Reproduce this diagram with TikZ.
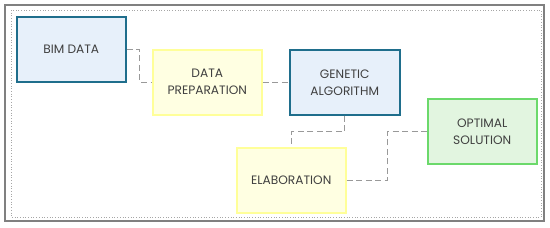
\documentclass[tikz,border=0pt]{standalone}
\usepackage{fontspec}
\setmainfont{Poppins}
\begin{document}
\begin{tikzpicture}[x=1pt,y=-1pt,
  box/.style={draw,line width=1.5pt,minimum width=109pt,minimum height=65pt,align=center,font=\fontsize{12.2}{17}\selectfont,text=black!75,inner sep=0pt,anchor=north west},
  bluebox/.style={box,fill=bf,draw=bd},
  yelbox/.style={box,fill=yf,draw=yd},
  grnbox/.style={box,fill=gf,draw=gd},
  conn/.style={draw=black!40,line width=1.4pt,dash pattern=on 6pt off 3.5pt}]
\definecolor{bd}{HTML}{1F6E8C}
\definecolor{bf}{HTML}{E7F0FA}
\definecolor{yf}{HTML}{FFFFE2}
\definecolor{yd}{HTML}{FFFF99}
\definecolor{gf}{HTML}{E2F5E0}
\definecolor{gd}{HTML}{6BD96B}
\useasboundingbox (0,0) rectangle (550,228);
\draw[black!50,line width=1.5pt] (5,5) rectangle (544,221);
\draw[black!35,dotted,line width=0.7pt] (11,10) rectangle (541,217);
\node[bluebox] (bim) at (16,16) {BIM DATA};
\node[yelbox] (dp) at (152,49) {DATA\\PREPARATION};
\node[bluebox,minimum width=110pt] (ga) at (289,49) {GENETIC\\ALGORITHM};
\node[yelbox] (el) at (236,147) {ELABORATION};
\node[grnbox] (opt) at (427,98) {OPTIMAL\\SOLUTION};
\draw[conn] (bim.east) -- ++(13,0) |- (dp.west);
\draw[conn] (dp.east) -- (ga.west);
\draw[conn] (ga.south) -- ++(0,16) -| (el.north);
\draw[conn] (el.east) -- ++(41,0) |- (opt.west);
\end{tikzpicture}
\end{document}
